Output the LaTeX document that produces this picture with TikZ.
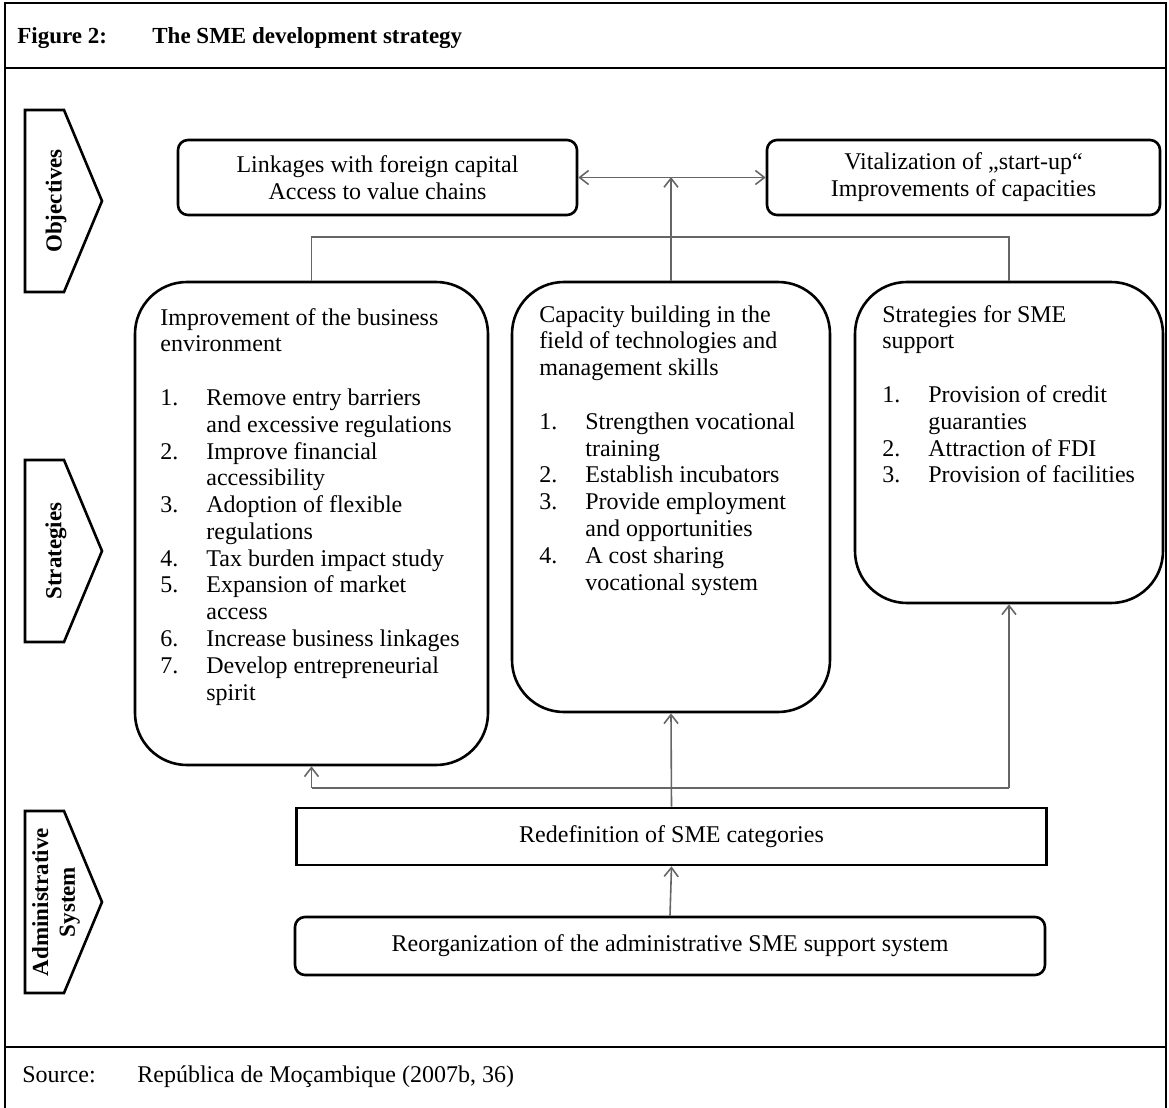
\documentclass[tikz,border=0pt]{standalone}
\usepackage{fontspec}
\setmainfont{Liberation Serif}
\usetikzlibrary{arrows.meta}
\newcommand\boxfont{\fontsize{12}{13.4}\selectfont}
\newcommand\chevfont{\fontsize{11.5}{13.4}\selectfont\bfseries}
\newcommand\titlefont{\fontsize{11.5}{14}\selectfont\bfseries}
\newcommand\srcfont{\fontsize{12}{14}\selectfont}
\newcommand\boxhead[1]{\multicolumn{2}{@{}l@{}}{#1}}

\begin{document}
\begin{tikzpicture}[x=0.5pt, y=-0.5pt, >={Straight Barb[length=4.5pt,width=7pt]},
  figrule/.style={line width=1pt},
  pagetext/.style={anchor=base west, inner sep=0pt},
  objbox/.style={draw, rectangle, rounded corners=5pt, line width=1.3pt, minimum height=37.5pt, align=center, font=\boxfont},
  stratbox/.style={draw, rectangle, rounded corners=26pt, line width=1.3pt},
  stext/.style={anchor=base west, inner sep=0pt, font=\boxfont},
  admbox/.style={draw, rectangle, line width=1.3pt, minimum width=375pt, minimum height=28.5pt, font=\boxfont},
  conn/.style={draw=black!60, line width=0.8pt},
  chev/.style={line width=1.3pt},
  chevtxt/.style={rotate=90, align=center, inner sep=0pt, font=\chevfont}]
\useasboundingbox (0,0) rectangle (1169,1108);

% frame, title and source
\draw[figrule] (5,1108) -- (5,3) -- (1166,3) -- (1166,1108);
\draw[figrule] (5,68) -- (1166,68);
\draw[figrule] (5,1047) -- (1166,1047);
\node[pagetext, font=\titlefont] (fignum) at (17,43) {Figure 2:};
\node[pagetext, font=\titlefont] (figtitle) at (152,43) {The SME development strategy};
\node[pagetext, font=\srcfont] (srclabel) at (22,1082) {Source:};
\node[pagetext, font=\srcfont] (srcref) at (137,1082) {República de Moçambique (2007b, 36)};

% levels on the left
\foreach \yc/\lab [count=\i] in {201/Objectives, 551/Strategies, 902/{Administrative\\System}} {
  \draw[chev] (25,\yc-91) -- (64,\yc-91) -- (102,\yc) -- (64,\yc+91) -- (25,\yc+91) -- cycle;
  \node[chevtxt] (level\i) at (56,\yc) {\lab};
}

% objectives
\node[objbox, minimum width=199.5pt] (link) at (377.5,177.5) {Linkages with foreign capital\\Access to value chains};
\node[objbox, minimum width=196.5pt] (vital) at (963.5,177.5) {Vitalization of „start-up“\\Improvements of capacities};

% strategies
\node[stratbox, minimum width=176.5pt, minimum height=241.5pt] (env) at (311.5,523.5) {};
\node[stratbox, minimum width=159pt, minimum height=215pt] (cap) at (671,497) {};
\node[stratbox, minimum width=154pt, minimum height=160.5pt] (supp) at (1009,442.5) {};

\node[stext] (envtxt) at (160,325) {\begin{tabular}[t]{@{}p{23pt}@{}l@{}}
\boxhead{Improvement of the business}\\
\boxhead{environment}\\[13.4pt]
1. & Remove entry barriers\\
   & and excessive regulations\\
2. & Improve financial\\
   & accessibility\\
3. & Adoption of flexible\\
   & regulations\\
4. & Tax burden impact study\\
5. & Expansion of market\\
   & access\\
6. & Increase business linkages\\
7. & Develop entrepreneurial\\
   & spirit
\end{tabular}};

\node[stext] (captxt) at (539,322) {\begin{tabular}[t]{@{}p{23pt}@{}l@{}}
\boxhead{Capacity building in the}\\
\boxhead{field of technologies and}\\
\boxhead{management skills}\\[13.4pt]
1. & Strengthen vocational\\
   & training\\
2. & Establish incubators\\
3. & Provide employment\\
   & and opportunities\\
4. & A cost sharing\\
   & vocational system
\end{tabular}};

\node[stext] (supptxt) at (882,322) {\begin{tabular}[t]{@{}p{23pt}@{}l@{}}
\boxhead{Strategies for SME}\\
\boxhead{support}\\[13.4pt]
1. & Provision of credit\\
   & guaranties\\
2. & Attraction of FDI\\
3. & Provision of facilities
\end{tabular}};

% administrative system
\node[admbox] (redef) at (671.5,836.5) {Redefinition of SME categories};
\node[admbox, rounded corners=5pt, minimum height=29pt] (reorg) at (670,946) {Reorganization of the administrative SME support system};

% connectors
\coordinate (bar) at (0,237);
\coordinate (low) at (0,788);
\coordinate (mid) at (671,177);
\draw[conn, <->] (link.east) -- (vital.west);
\draw[conn, ->] (cap.north) -- (mid);
\draw[conn] (env.north) -- (env.north |- bar) -- (supp.north |- bar) -- (supp.north);
\draw[conn] (env.south |- low) -- (supp.south |- low);
\draw[conn, ->] (env.south |- low) -- (env.south);
\draw[conn, ->] (supp.south |- low) -- (supp.south);
\draw[conn, ->] (redef.north) -- (cap.south);
\draw[conn, ->] (reorg.north) -- (redef.south);
\end{tikzpicture}
\end{document}
